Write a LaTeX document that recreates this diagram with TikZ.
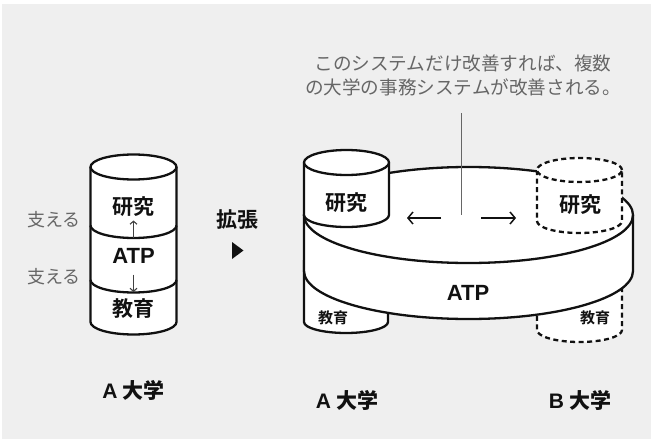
\documentclass[tikz,border=0pt]{standalone}
\usepackage{fontspec}
\usetikzlibrary{arrows.meta}
\newfontfamily\jp{Noto Sans CJK JP}
\newfontfamily\jpb{Noto Sans CJK JP Bold}
\newfontfamily\lat{Liberation Sans}
\definecolor{bg}{HTML}{EFEFEF}
\definecolor{ink}{HTML}{111111}
\definecolor{note}{HTML}{666666}
\tikzset{
  outl/.style={draw=ink, line width=2.3pt, line join=round},
  dsh/.style={draw=ink, line width=2.3pt, dash pattern=on 5pt off 3.5pt},
  lbl/.style={font=\jpb\fontsize{21}{23}\selectfont, text=ink, inner sep=0pt},
  slbl/.style={font=\jpb\fontsize{15}{17}\selectfont, text=ink, inner sep=0pt},
  atp/.style={font=\lat\bfseries\fontsize{22}{24}\selectfont, text=ink, inner sep=0pt},
  uni/.style={font=\fontsize{21}{23}\selectfont, text=ink, inner sep=0pt},
  gtxt/.style={font=\jp\fontsize{18}{20}\selectfont, text=note, inner sep=0pt},
  thinarr/.style={draw=ink!80, line width=1.1pt, -{Straight Barb[length=3pt,width=7pt]}},
  midarr/.style={draw=ink, line width=1.5pt, -{Straight Barb[length=5pt,width=12pt]}},
}
\begin{document}
\begin{tikzpicture}[x=1pt,y=-1pt]
% background
\fill[white] (0,0) rectangle (651,439);
\fill[bg] (1.5,4) rectangle (651,439);
\useasboundingbox (0,0) rectangle (651,439);

% ---------- left cylinder (A) ----------
\fill[white] (90.5,167) -- (90.5,322) arc[start angle=180,end angle=360,x radius=43pt,y radius=12.5pt] -- (176.5,167) -- cycle;
\draw[outl] (90.5,167) -- (90.5,322) arc[start angle=180,end angle=360,x radius=43pt,y radius=12.5pt] -- (176.5,167);
\draw[outl, fill=white] (133.5,167) ellipse[x radius=43pt, y radius=12.5pt];
\draw[outl] (90.5,225.5) arc[start angle=180,end angle=360,x radius=43pt,y radius=12.5pt];
\draw[outl] (90.5,280) arc[start angle=180,end angle=360,x radius=43pt,y radius=12.5pt];
\node[lbl] (lres) at (133.5,207) {研究};
\node[atp] (latp) at (133.5,255.5) {ATP};
\node[lbl] (ledu) at (133.5,309) {教育};
\coordinate (upS) at (133.5,237.5);
\coordinate (dnE) at (133.5,292);
\draw[thinarr] (upS) -- (lres.south |- 0,220.5);
\draw[thinarr] (latp.south |- 0,274.5) -- (dnE);
\node[gtxt] (sup1) at (54,220) {支える};
\node[gtxt] (sup2) at (54,277) {支える};
\node[uni] (lA) at (133.5,390) {\lat\bfseries A\hspace{5pt}\jpb 大学};

% ---------- expand ----------
\node[lbl] (kak) at (237,220) {拡張};
\fill[ink] (232,242) -- (243.5,250.5) -- (232,259) -- cycle;

% ---------- A 教育 (under disk) ----------
\fill[white] (304,260) -- (304,322) arc[start angle=180,end angle=360,x radius=42pt,y radius=11pt] -- (388,260) -- cycle;
\draw[outl] (304,260) -- (304,322) arc[start angle=180,end angle=360,x radius=42pt,y radius=11pt] -- (388,260);
% ---------- B 教育 (dashed, under disk) ----------
\fill[white] (537,260) -- (537,330) arc[start angle=180,end angle=360,x radius=42.5pt,y radius=12pt] -- (622,260) -- cycle;
\draw[dsh] (622,270) -- (622,330) arc[start angle=0,end angle=-180,x radius=42.5pt,y radius=12pt] -- (537,300);

% ---------- disk ----------
\fill[white] (304,215) -- (304,271) arc[start angle=180,end angle=360,x radius=164.5pt,y radius=48pt] -- (633,215) arc[start angle=0,end angle=180,x radius=164.5pt,y radius=48pt] -- cycle;
\draw[outl] (304,215) -- (304,271) arc[start angle=180,end angle=360,x radius=164.5pt,y radius=48pt] -- (633,215);
\draw[outl] (468.5,215) ellipse[x radius=164.5pt, y radius=48pt];
\node[atp] (batp) at (468,293) {ATP};

% note and pointer line
\node[gtxt, align=center, font=\jp\fontsize{18.6}{24}\selectfont] (note) at (463,75) {このシステムだけ改善すれば、複数\\の大学の事務システムが改善される。};
\coordinate (lineE) at (461,215);
\draw[draw=note, line width=0.9pt] (461,113) -- (lineE);

% ---------- A 研究 on disk ----------
\fill[white] (304,162.5) -- (304,214) arc[start angle=180,end angle=360,x radius=42.5pt,y radius=12pt] -- (389,162.5) -- cycle;
\draw[outl] (304,162.5) -- (304,215) arc[start angle=180,end angle=360,x radius=42.5pt,y radius=12pt] -- (389,162.5);
\draw[outl, fill=white] (346.5,162.5) ellipse[x radius=42.5pt, y radius=12.5pt];
\node[lbl] (ares) at (346.5,203) {研究};
\node[slbl] (aedu) at (333,318) {教育};

% ---------- B 研究 dashed ----------
\fill[white] (537,170) -- (537,221) arc[start angle=180,end angle=360,x radius=42.5pt,y radius=12pt] -- (622,170) -- cycle;
\draw[dsh] (537,170) -- (537,221) arc[start angle=180,end angle=360,x radius=42.5pt,y radius=12pt] -- (622,170);
\draw[dsh, fill=white] (579.5,170) ellipse[x radius=42.5pt, y radius=12pt];
\node[lbl] (bres) at (580,205) {研究};
\node[slbl] (bedu) at (595,318) {教育};

% arrows
\coordinate (aL) at (407,218);
\coordinate (aR) at (516,218);
\draw[midarr] (441,218) -- (aL);
\draw[midarr] (481,218) -- (aR);

% bottom labels
\node[uni] (rA) at (347,400) {\lat\bfseries A\hspace{5pt}\jpb 大学};
\node[uni] (rB) at (580,400) {\lat\bfseries B\hspace{5pt}\jpb 大学};
\end{tikzpicture}
\end{document}
